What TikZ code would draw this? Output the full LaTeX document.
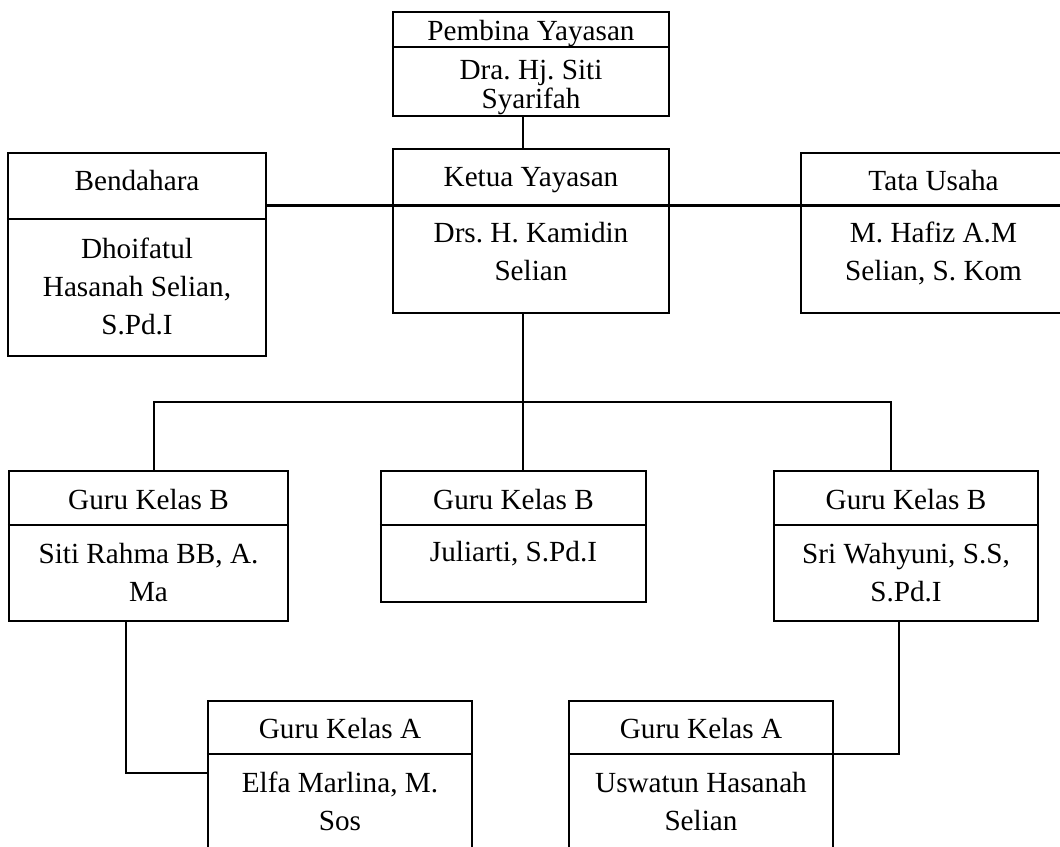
\documentclass[tikz,border=0pt]{standalone}
\usepackage{fontspec}
\setmainfont{Liberation Serif}
\usetikzlibrary{positioning,fit,calc}
\frenchspacing

\tikzset{
    box/.style={draw, line width=1.1pt, inner sep=0pt},
    lbl/.style={font=\fontsize{14.6}{19}\selectfont, inner sep=0pt, align=center},
    link/.style={line width=1.1pt},
}

\begin{document}
\begin{tikzpicture}[x=0.5pt,y=-0.5pt]
    \useasboundingbox (0,0) rectangle (1060,846);
    \clip (0,0) rectangle (1060,846);
    \fill[white] (0,0) rectangle (1060,846);

    % Pembina Yayasan
    \node[box, fit={(393,12) (669,116)}] (pembina) {};
    \draw[link] (pembina.west |- 0,47) -- (pembina.east |- 0,47);
    \node[lbl] (pembinaT) at (531,33.3) {Pembina Yayasan};
    \node[lbl, font=\fontsize{14.6}{12.8}\selectfont] (pembinaN) at (531,87.8) {Dra. Hj. Siti\\Syarifah};

    % Ketua Yayasan
    \node[box, fit={(393,149) (669,313)}] (ketua) {};
    \node[lbl] (ketuaT) at (531,180) {Ketua Yayasan};
    \node[lbl] (ketuaN) at (531,251.8) {Drs. H. Kamidin\\Selian};

    % Bendahara
    \node[box, fit={(8,153) (266,356)}] (bend) {};
    \draw[link] (bend.west |- 0,219) -- (bend.east |- 0,219);
    \node[lbl] (bendT) at (137,181) {Bendahara};
    \node[lbl] (bendN) at (137,286.8) {Dhoifatul\\Hasanah Selian,\\S.Pd.I};

    % Tata Usaha
    \node[box, fit={(801,153) (1066,313)}] (tata) {};
    \node[lbl] (tataT) at (933.5,180.1) {Tata Usaha};
    \node[lbl] (tataN) at (933.5,253.8) {M. Hafiz A.M\\Selian, S. Kom};

    % Guru Kelas B
    \node[box, fit={(9,471) (288,621)}] (gbl) {};
    \draw[link] (gbl.west |- 0,525) -- (gbl.east |- 0,525);
    \node[lbl] (gblT) at (148.5,499.4) {Guru Kelas B};
    \node[lbl] (gblN) at (148.5,572.3) {Siti Rahma BB, A.\\Ma};

    \node[box, fit={(381,471) (646,602)}] (gbm) {};
    \draw[link] (gbm.west |- 0,525) -- (gbm.east |- 0,525);
    \node[lbl] (gbmT) at (513.5,499.4) {Guru Kelas B};
    \node[lbl] (gbmN) at (513.5,553.8) {Juliarti, S.Pd.I};

    \node[box, fit={(774,471) (1038,621)}] (gbr) {};
    \draw[link] (gbr.west |- 0,525) -- (gbr.east |- 0,525);
    \node[lbl] (gbrT) at (906,499.4) {Guru Kelas B};
    \node[lbl] (gbrN) at (906,572.3) {Sri Wahyuni, S.S,\\S.Pd.I};

    % Guru Kelas A
    \node[box, fit={(208,701) (472,870)}] (gal) {};
    \draw[link] (gal.west |- 0,754) -- (gal.east |- 0,754);
    \node[lbl] (galT) at (340,728.4) {Guru Kelas A};
    \node[lbl] (galN) at (340,801.5) {Elfa Marlina, M.\\Sos};

    \node[box, fit={(569,701) (833,870)}] (gar) {};
    \draw[link] (gar.west |- 0,754) -- (gar.east |- 0,754);
    \node[lbl] (garT) at (701,728.4) {Guru Kelas A};
    \node[lbl] (garN) at (701,801.5) {Uswatun Hasanah\\Selian};

    % Connectors
    \coordinate (hline) at (0,205.5);
    \coordinate (bus) at (523,402);
    \draw[link] ([xshift=-4pt]pembina.south) -- ([xshift=-4pt]ketua.north);
    \draw[link] (bend.east |- hline) -- (tata.east |- hline);
    \draw[link] ([xshift=-4pt]ketua.south) -- (bus);
    \draw[link] ([xshift=2.75pt]gbl.north) |- (bus) -| ([xshift=-7.5pt]gbr.north);
    \draw[link] (bus) -- (gbm.north -| bus);
    \draw[link] ([xshift=-11.25pt]gbl.south) |- ([yshift=6.25pt]gal.west);
    \draw[link] ([xshift=-3.5pt]gbr.south) |- ([yshift=15.75pt]gar.east);
\end{tikzpicture}
\end{document}
